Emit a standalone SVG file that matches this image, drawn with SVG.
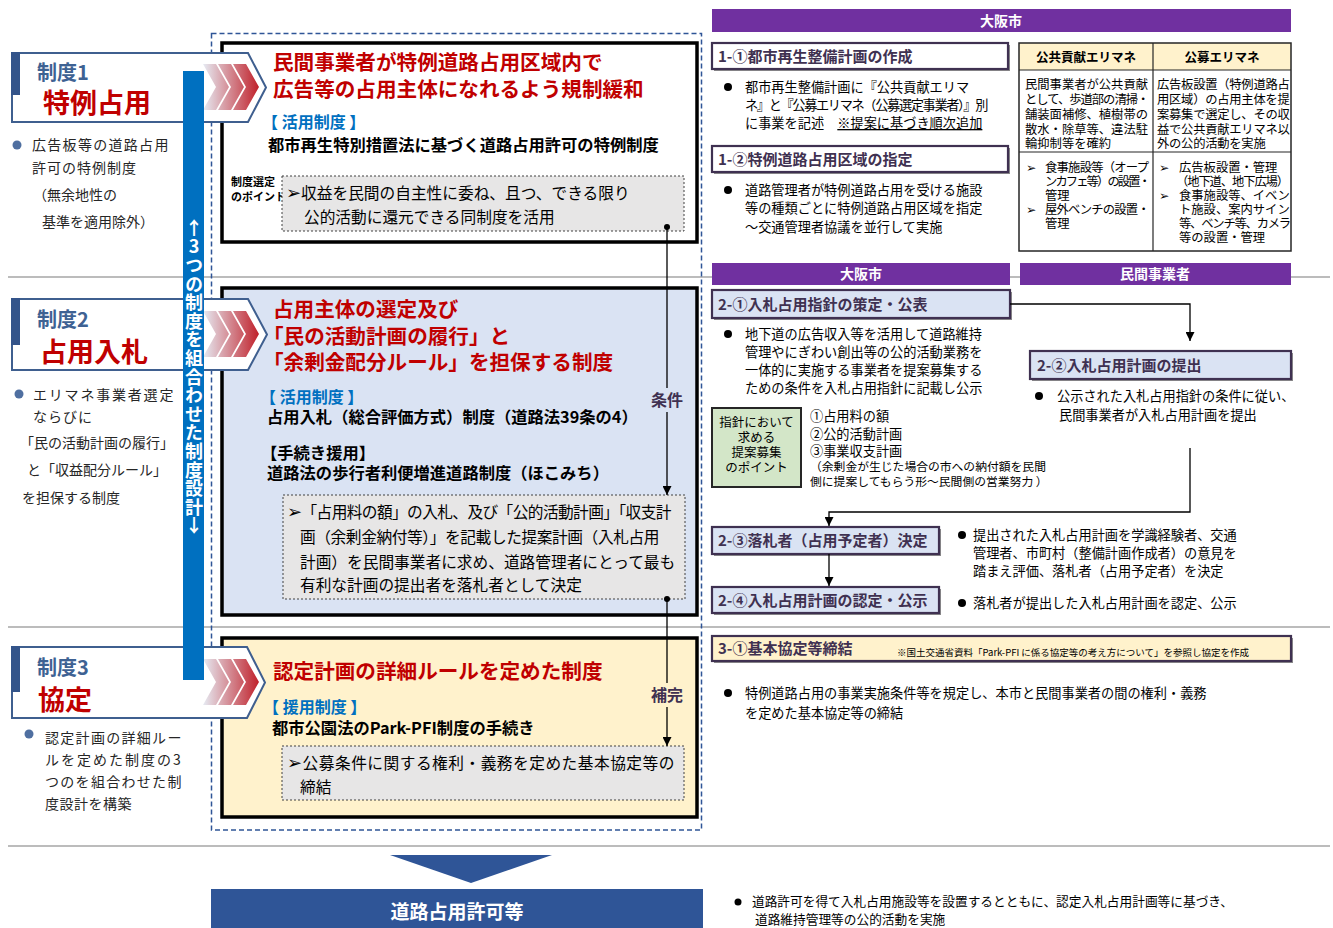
<svg xmlns="http://www.w3.org/2000/svg" width="1333" height="928" viewBox="0 0 1333 928">
<defs>
<style>
text{font-family:"Noto Sans CJK JP","Noto Sans CJK SC","DejaVu Sans",sans-serif;}
.red{fill:#c00000;font-weight:bold;font-size:20.6px}
.sei{fill:#3e6293;font-weight:bold;font-size:20px}
.big{fill:#c00000;font-weight:bold;font-size:27px}
.lt{font-size:14px;fill:#262626}
.blue{fill:#0070c0;font-weight:bold;font-size:16px}
.sub{font-weight:bold;font-size:16.3px;fill:#000}
.gt{font-size:15.7px;fill:#000}
.ashape{fill:#fff;stroke:#3f5f8f;stroke-width:2}
.band{fill:#33548a}
.cbox{stroke:#000;stroke-width:3.5}
.gbox{fill:#e7e6e6;stroke:#404040;stroke-width:1;stroke-dasharray:2 2}
.hdr{fill:#7030a0}
.hdrt{fill:#fff;font-weight:bold;font-size:14px;text-anchor:middle}
.step{stroke:#3f3151;stroke-width:2.2}
.shadow{fill:#8c8c8c}
.stept{fill:#3f3151;font-weight:bold;font-size:15px}
.rt{font-size:13.2px;fill:#000}
.tt{font-size:12.3px;fill:#000}
.th{font-size:12.5px;font-weight:bold;fill:#000;text-anchor:middle}
.conn{stroke:#000;stroke-width:1.3;fill:none}
.lbl{fill:#403151;font-weight:bold;font-size:16px;text-anchor:middle}
.gl{stroke:#a6a6a6;stroke-width:1.5}
.chev{fill:url(#chev)}
.vt{fill:#fff;font-weight:bold;font-size:18px;writing-mode:vertical-rl;text-orientation:upright;letter-spacing:0.6px}
.ar{font-size:18px}
</style>
<linearGradient id="chev" gradientUnits="userSpaceOnUse" x1="203" y1="0" x2="259" y2="0">
<stop offset="0" stop-color="#e6ebf3"/>
<stop offset="1" stop-color="#c0202a"/>
</linearGradient>
<marker id="ah" viewBox="0 0 10 10" refX="10" refY="5" markerWidth="9" markerHeight="9" markerUnits="userSpaceOnUse" orient="auto">
<path d="M0,0 L10,5 L0,10 z" fill="#000"/>
</marker>
<g id="chevs">
<polygon class="chev" points="203,64 216,64 229,87 216,110 203,110 216,87"/>
<polygon class="chev" points="218,64 231,64 244,87 231,110 218,110 231,87"/>
<polygon class="chev" points="233,64 246,64 259,87 246,110 233,110 246,87"/>
</g>
</defs>
<rect width="1333" height="928" fill="#fff"/>

<g id="gridlines">
<line class="gl" x1="8" y1="277" x2="1330" y2="277"/>
<line class="gl" x1="8" y1="627" x2="1330" y2="627"/>
<line class="gl" x1="8" y1="846" x2="1330" y2="846"/>
</g>

<rect id="center-frame" x="211.5" y="33.5" width="490" height="796.5" fill="none" stroke="#2f5597" stroke-width="1.5" stroke-dasharray="5 3"/>

<g id="box1">
<rect class="cbox" x="222" y="43" width="475" height="199" fill="#fff"/>
<text class="red"><tspan x="273" y="70">民間事業者が特例道路占用区域内で</tspan><tspan x="273" y="97">広告等の占用主体になれるよう規制緩和</tspan></text>
<text class="blue" x="262" y="128">【 活用制度 】</text>
<text class="sub" x="268" y="151">都市再生特別措置法に基づく道路占用許可の特例制度</text>
<text font-size="11" font-weight="bold"><tspan x="231" y="186">制度選定</tspan><tspan x="231" y="201">のポイント</tspan></text>
<rect class="gbox" x="282" y="176" width="402" height="55"/>
<text class="gt"><tspan x="286" y="199"><tspan class="ar">➢</tspan>収益を民間の自主性に委ね、且つ、できる限り</tspan><tspan x="304" y="223">公的活動に還元できる同制度を活用</tspan></text>
</g>

<g id="box2">
<rect class="cbox" x="222" y="288" width="475" height="327" fill="#dae3f3"/>
<text class="red"><tspan x="273" y="317">占用主体の選定及び</tspan><tspan x="263" y="344">「民の活動計画の履行」と</tspan><tspan x="263" y="370">「余剰金配分ルール」を担保する制度</tspan></text>
<text class="blue" x="260" y="403">【 活用制度 】</text>
<text class="sub" x="267" y="423" font-size="16">占用入札（総合評価方式）制度（道路法39条の4）</text>
<text class="sub" x="261" y="459">【手続き援用】</text>
<text class="sub" x="267" y="479" font-size="16">道路法の歩行者利便増進道路制度（ほこみち）</text>
<rect class="gbox" x="283" y="495" width="402" height="104"/>
<text class="gt"><tspan x="287" y="518" letter-spacing="-0.6"><tspan class="ar">➢</tspan>「占用料の額」の入札、及び「公的活動計画」「収支計</tspan><tspan x="300" y="543" letter-spacing="-0.4">画（余剰金納付等）」を記載した提案計画（入札占用</tspan><tspan x="300" y="568">計画）を民間事業者に求め、道路管理者にとって最も</tspan><tspan x="300" y="591">有利な計画の提出者を落札者として決定</tspan></text>
</g>

<g id="box3">
<rect class="cbox" x="222" y="638" width="475" height="179" fill="#fff2cc"/>
<text class="red" x="273" y="679">認定計画の詳細ルールを定めた制度</text>
<text class="blue" x="263" y="713">【 援用制度 】</text>
<text class="sub" x="272" y="734">都市公園法のPark-PFI制度の手続き</text>
<rect class="gbox" x="282" y="746" width="402" height="54"/>
<text class="gt"><tspan x="287" y="769" letter-spacing="0.5"><tspan class="ar">➢</tspan>公募条件に関する権利・義務を定めた基本協定等の</tspan><tspan x="300" y="793">締結</tspan></text>
</g>

<g id="seido1">
<polygon class="ashape" points="12,53 248,53 266,87.5 248,122 12,122"/>
<rect class="band" x="11" y="52" width="9" height="43"/>
<use href="#chevs"/>
<text class="sei" x="37" y="80">制度1</text>
<text class="big" x="43" y="113">特例占用</text>
<circle cx="17" cy="145" r="4.5" fill="#4f6fa0"/>
<text class="lt"><tspan x="32" y="150" letter-spacing="1.3">広告板等の道路占用</tspan><tspan x="32" y="173" letter-spacing="1">許可の特例制度</tspan><tspan x="33" y="200">（無余地性の</tspan><tspan x="42" y="227">基準を適用除外）</tspan></text>
</g>

<g id="seido2">
<polygon class="ashape" points="12,299 248,299 267,334.5 248,370 12,370"/>
<rect class="band" x="11" y="298" width="9" height="47"/>
<use href="#chevs" transform="translate(0,247)"/>
<text class="sei" x="37" y="327">制度2</text>
<text class="big" x="40" y="362">占用入札</text>
<circle cx="19" cy="394" r="4.5" fill="#4f6fa0"/>
<text class="lt"><tspan x="33" y="400" letter-spacing="1.8">エリマネ事業者選定</tspan><tspan x="33" y="422" letter-spacing="1">ならびに</tspan><tspan x="20" y="448">「民の活動計画の履行」</tspan><tspan x="27" y="475">と「収益配分ルール」</tspan><tspan x="22" y="503">を担保する制度</tspan></text>
</g>

<g id="seido3">
<polygon class="ashape" points="12,647 247,647 265,682.5 247,718 12,718"/>
<rect class="band" x="11" y="646" width="9" height="46"/>
<use href="#chevs" transform="translate(0,595)"/>
<text class="sei" x="37" y="675">制度3</text>
<text class="big" x="38" y="710">協定</text>
<circle cx="29" cy="734" r="4.5" fill="#4f6fa0"/>
<text class="lt"><tspan x="45" y="743" letter-spacing="1.3">認定計画の詳細ルー</tspan><tspan x="45" y="765" letter-spacing="2">ルを定めた制度の3</tspan><tspan x="45" y="787" letter-spacing="1.3">つのを組合わせた制</tspan><tspan x="45" y="809" letter-spacing="0.5">度設計を構築</tspan></text>
</g>

<g id="vbar">
<rect x="183" y="71" width="21" height="609" fill="#0070c0"/>
<text class="vt" x="194" y="219">↑3つの制度を組合わせた制度設計↓</text>
</g>

<g id="headers">
<rect class="hdr" x="712" y="9" width="579" height="23"/>
<text class="hdrt" x="1001" y="26">大阪市</text>
<rect class="hdr" x="712" y="263" width="298" height="22"/>
<text class="hdrt" x="861" y="279">大阪市</text>
<rect class="hdr" x="1020" y="263" width="271" height="22"/>
<text class="hdrt" x="1155" y="279">民間事業者</text>
</g>

<g id="step1-1">
<rect class="shadow" x="714" y="45" width="296" height="26"/>
<rect class="step" x="712" y="43" width="296" height="26" fill="#fff"/>
<text class="stept" x="718" y="61.5">1-①都市再生整備計画の作成</text>
<circle cx="728" cy="87" r="4"/>
<text class="rt"><tspan x="745" y="92">都市再生整備計画に『公共貢献エリマ</tspan><tspan x="745" y="110" letter-spacing="-1.35">ネ』と『公募エリマネ（公募選定事業者）』別</tspan><tspan x="745" y="128">に事業を記述　</tspan><tspan text-decoration="underline">※提案に基づき順次追加</tspan></text>
</g>

<g id="step1-2">
<rect class="shadow" x="714" y="148" width="296" height="26"/>
<rect class="step" x="712" y="146" width="296" height="26" fill="#fff"/>
<text class="stept" x="718" y="164.5">1-②特例道路占用区域の指定</text>
<circle cx="728" cy="190" r="4"/>
<text class="rt"><tspan x="745" y="195">道路管理者が特例道路占用を受ける施設</tspan><tspan x="745" y="213">等の種類ごとに特例道路占用区域を指定</tspan><tspan x="745" y="232">～交通管理者協議を並行して実施</tspan></text>
</g>

<g id="table">
<rect x="1019" y="43" width="272" height="27" fill="#fff2cc"/>
<rect x="1019" y="43" width="272" height="208" fill="none" stroke="#262626" stroke-width="1.5"/>
<line x1="1153" y1="43" x2="1153" y2="251" stroke="#262626" stroke-width="1.2"/>
<line x1="1019" y1="70" x2="1291" y2="70" stroke="#262626" stroke-width="1.2"/>
<line x1="1019" y1="152" x2="1291" y2="152" stroke="#262626" stroke-width="1.2"/>
<text class="th" x="1086" y="62">公共貢献エリマネ</text>
<text class="th" x="1222" y="62">公募エリマネ</text>
<text class="tt"><tspan x="1025" y="89">民間事業者が公共貢献</tspan><tspan x="1025" y="104" letter-spacing="-1">として、歩道部の清掃・</tspan><tspan x="1025" y="119">舗装面補修、植樹帯の</tspan><tspan x="1025" y="134">散水・除草等、違法駐</tspan><tspan x="1025" y="148">輪抑制等を確約</tspan></text>
<text class="tt" letter-spacing="-0.25"><tspan x="1157" y="89">広告板設置（特例道路占</tspan><tspan x="1157" y="104">用区域）の占用主体を提</tspan><tspan x="1157" y="119">案募集で選定し、その収</tspan><tspan x="1157" y="134">益で公共貢献エリマネ以</tspan><tspan x="1157" y="148">外の公的活動を実施</tspan></text>
<text class="tt"><tspan x="1026" y="172">➢</tspan><tspan x="1045" y="172" letter-spacing="-0.75">食事施設等（オープ</tspan><tspan x="1045" y="186" letter-spacing="-1.9">ンカフェ等）の設置・</tspan><tspan x="1045" y="200">管理</tspan><tspan x="1026" y="214">➢</tspan><tspan x="1045" y="214" letter-spacing="-0.75">屋外ベンチの設置・</tspan><tspan x="1045" y="228">管理</tspan></text>
<text class="tt"><tspan x="1159" y="172">➢</tspan><tspan x="1179" y="172">広告板設置・管理</tspan><tspan x="1176" y="186" letter-spacing="-1.1">（地下道、地下広場）</tspan><tspan x="1159" y="200">➢</tspan><tspan x="1179" y="200">食事施設等、イベン</tspan><tspan x="1179" y="214">ト施設、案内サイン</tspan><tspan x="1179" y="228" letter-spacing="-1.2">等、ベンチ等、カメラ</tspan><tspan x="1179" y="242">等の設置・管理</tspan></text>
</g>

<g id="step2-1">
<rect class="shadow" x="714" y="292" width="298" height="28"/>
<rect class="step" x="712" y="290" width="298" height="28" fill="#dae3f3"/>
<text class="stept" x="718" y="309.5">2-①入札占用指針の策定・公表</text>
<circle cx="728" cy="334" r="4"/>
<text class="rt"><tspan x="745" y="339">地下道の広告収入等を活用して道路維持</tspan><tspan x="745" y="357">管理やにぎわい創出等の公的活動業務を</tspan><tspan x="745" y="375">一体的に実施する事業者を提案募集する</tspan><tspan x="745" y="393">ための条件を入札占用指針に記載し公示</tspan></text>
</g>

<g id="point-box">
<rect x="712" y="408" width="89" height="79" fill="#d3e6c8" stroke="#262626" stroke-width="2"/>
<text font-size="12.5" text-anchor="middle"><tspan x="756.5" y="427">指針において</tspan><tspan x="756.5" y="442">求める</tspan><tspan x="756.5" y="457">提案募集</tspan><tspan x="756.5" y="472">のポイント</tspan></text>
<text class="rt"><tspan x="810" y="421">①占用料の額</tspan><tspan x="810" y="439">②公的活動計画</tspan><tspan x="810" y="456">③事業収支計画</tspan><tspan x="810" y="471" font-size="11.8">（余剰金が生じた場合の市への納付額を民間</tspan><tspan x="810" y="486" font-size="11.8">側に提案してもらう形～民間側の営業努力 ）</tspan></text>
</g>

<g id="step2-2">
<rect class="shadow" x="1032" y="353" width="261" height="28"/>
<rect class="step" x="1030" y="351" width="261" height="28" fill="#dae3f3"/>
<text class="stept" x="1037" y="370.5">2-②入札占用計画の提出</text>
<circle cx="1039" cy="396" r="4"/>
<text class="rt" font-size="13"><tspan x="1057" y="401">公示された入札占用指針の条件に従い、</tspan><tspan x="1059" y="420">民間事業者が入札占用計画を提出</tspan></text>
</g>

<g id="step2-3">
<rect class="shadow" x="714" y="529" width="227" height="27"/>
<rect class="step" x="712" y="527" width="227" height="27" fill="#dae3f3"/>
<text class="stept" x="718" y="546">2-③落札者（占用予定者）決定</text>
<circle cx="962" cy="535" r="4"/>
<text class="rt"><tspan x="973" y="540">提出された入札占用計画を学識経験者、交通</tspan><tspan x="973" y="558">管理者、市町村（整備計画作成者）の意見を</tspan><tspan x="973" y="576">踏まえ評価、落札者（占用予定者）を決定</tspan></text>
</g>

<g id="step2-4">
<rect class="shadow" x="714" y="589" width="227" height="26"/>
<rect class="step" x="712" y="587" width="227" height="26" fill="#dae3f3"/>
<text class="stept" x="718" y="605.5">2-④入札占用計画の認定・公示</text>
<circle cx="962" cy="603" r="4"/>
<text class="rt" x="973" y="608">落札者が提出した入札占用計画を認定、公示</text>
</g>

<g id="step3-1">
<rect class="shadow" x="714" y="638" width="579" height="25"/>
<rect class="step" x="712" y="636" width="579" height="25" fill="#fff2cc"/>
<text class="stept" x="718" y="654">3-①基本協定等締結</text>
<text x="897" y="656" font-size="9.5">※国土交通省資料「Park-PFI に係る協定等の考え方について」を参照し協定を作成</text>
<circle cx="728" cy="693" r="4"/>
<text class="rt"><tspan x="745" y="698">特例道路占用の事業実施条件等を規定し、本市と民間事業者の間の権利・義務</tspan><tspan x="745" y="718">を定めた基本協定等の締結</tspan></text>
</g>

<g id="result">
<polygon points="390,855 552,855 471,883" fill="#2f5597"/>
<rect x="211" y="889" width="492" height="39" fill="#2f5597"/>
<text x="457" y="919" font-size="19" font-weight="bold" fill="#fff" text-anchor="middle">道路占用許可等</text>
<circle cx="738" cy="902" r="3.5"/>
<text font-size="12.7"><tspan x="752" y="906">道路許可を得て入札占用施設等を設置するとともに、認定入札占用計画等に基づき、</tspan><tspan x="755" y="924">道路維持管理等の公的活動を実施</tspan></text>
</g>

<g id="connectors">
<line class="conn" x1="667" y1="227" x2="667" y2="495" marker-end="url(#ah)"/>
<circle cx="667" cy="227" r="3"/>
<rect x="650" y="388" width="34" height="24" fill="#dae3f3"/>
<text class="lbl" x="667" y="406">条件</text>
<line class="conn" x1="667" y1="599" x2="667" y2="746" marker-end="url(#ah)"/>
<circle cx="667" cy="599" r="3"/>
<rect x="650" y="683" width="34" height="24" fill="#fff2cc"/>
<text class="lbl" x="667" y="701">補完</text>
<path class="conn" d="M1010,304 H1190 V341" marker-end="url(#ah)"/>
<path class="conn" d="M1190,448 V512 H829 V526" marker-end="url(#ah)"/>
<path class="conn" d="M829,554 V586" marker-end="url(#ah)"/>
</g>
</svg>
